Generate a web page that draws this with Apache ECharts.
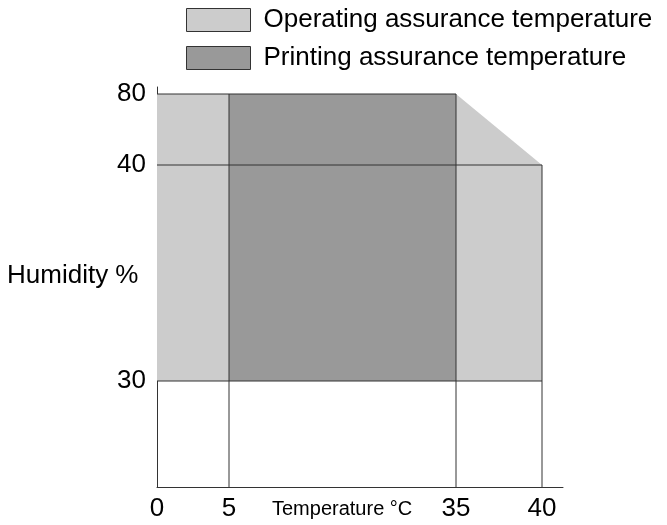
<!DOCTYPE html>
<html>
<head>
<meta charset="utf-8">
<script src="https://cdn.jsdelivr.net/npm/echarts@6/dist/echarts.min.js"></script>
<style>
html, body { margin: 0; padding: 0; background: #fff; }
#chart { width: 667px; height: 525px; }
</style>
</head>
<body>
<div id="chart"></div>
<script>
// values: temperature in °C, humidity in %
const tempTicks = [0, 5, 35, 40];
const humidityTicks = [30, 40, 80];
const humidityBase = 0;
const operatingZone = [[0, 30], [0, 80], [35, 80], [40, 40], [40, 30]];
const printingZone = [[5, 30], [5, 80], [35, 80], [35, 30]];
const borderLines = [
    [0, 80, 35, 80],
    [0, 40, 40, 40],
    [0, 30, 40, 30],
    [5, humidityBase, 5, 80],
    [35, humidityBase, 35, 80],
    [40, humidityBase, 40, 40]
];

// the drawing is not to scale, so each axis is piecewise linear:
// where each value sits along its axis, in px from the origin
const tempStops = [0, 5, 35, 40];
const tempStopPx = [0, 72, 299, 385];
const humStops = [0, 30, 40, 80];
const humStopPx = [0, 106, 322, 393];

function piecewise(v, stops, px) {
    let i = 1;
    while (i < stops.length - 1 && v > stops[i]) i++;
    const t = (v - stops[i - 1]) / (stops[i] - stops[i - 1]);
    return px[i - 1] + t * (px[i] - px[i - 1]);
}
const tx = v => piecewise(v, tempStops, tempStopPx);
const hy = v => piecewise(v, humStops, humStopPx);

const FONT = 'Liberation Sans, Arial, Helvetica, sans-serif';

function zoneSeries(name, zone, color, z) {
    return {
        name: name,
        type: 'custom',
        z: z,
        silent: true,
        itemStyle: { color: color },
        data: [0],
        renderItem: function (params, api) {
            const pts = zone.map(p => api.coord([tx(p[0]), hy(p[1])]));
            return {
                type: 'polygon',
                shape: { points: pts },
                style: { fill: color, stroke: null }
            };
        }
    };
}

const chart = echarts.init(document.getElementById('chart'));
chart.setOption({
    animation: false,
    textStyle: { fontFamily: FONT },
    legend: {
        orient: 'vertical',
        left: 186,
        top: 7,
        padding: 0,
        itemWidth: 64,
        itemHeight: 23,
        itemGap: 12,
        selectedMode: false,
        icon: 'rect',
        itemStyle: { borderColor: '#333', borderWidth: 1 },
        textStyle: { fontSize: 26, lineHeight: 23, color: '#000', fontFamily: FONT, padding: [0, 0, 0, 8] },
        data: ['Operating assurance temperature', 'Printing assurance temperature']
    },
    grid: { left: 157, top: 87, width: 406, height: 400, containLabel: false },
    xAxis: {
        type: 'value',
        min: 0,
        max: 406,
        splitLine: { show: false },
        axisTick: { show: false },
        axisLine: { lineStyle: { color: '#333', width: 1 } },
        axisLabel: {
            customValues: tempTicks.map(tx),
            formatter: v => String(tempTicks[tempTicks.map(tx).indexOf(v)]),
            fontSize: 26,
            color: '#000',
            margin: 9,
            fontFamily: FONT
        }
    },
    yAxis: {
        type: 'value',
        min: 0,
        max: 400,
        splitLine: { show: false },
        axisTick: { show: false },
        axisLine: { show: true, lineStyle: { color: '#333', width: 1 } },
        axisLabel: {
            customValues: humidityTicks.map(hy),
            formatter: v => String(humidityTicks[humidityTicks.map(hy).indexOf(v)]),
            fontSize: 26,
            color: '#000',
            margin: 11,
            fontFamily: FONT
        }
    },
    graphic: [
        {
            type: 'text', left: 7, top: 263,
            style: { text: 'Humidity %', fontSize: 26, fill: '#000', fontFamily: FONT }
        },
        {
            type: 'text', left: 272, top: 499,
            style: { text: 'Temperature °C', fontSize: 20, fill: '#000', fontFamily: FONT }
        }
    ],
    series: [
        zoneSeries('Operating assurance temperature', operatingZone, '#cccccc', 1),
        zoneSeries('Printing assurance temperature', printingZone, '#999999', 2),
        {
            type: 'custom',
            z: 3,
            silent: true,
            data: borderLines,
            renderItem: function (params, api) {
                const a = api.coord([tx(api.value(0)), hy(api.value(1))]);
                const b = api.coord([tx(api.value(2)), hy(api.value(3))]);
                return {
                    type: 'line',
                    shape: { x1: a[0], y1: a[1], x2: b[0], y2: b[1] },
                    style: { stroke: '#333', lineWidth: 1 }
                };
            }
        }
    ]
});
</script>
</body>
</html>
